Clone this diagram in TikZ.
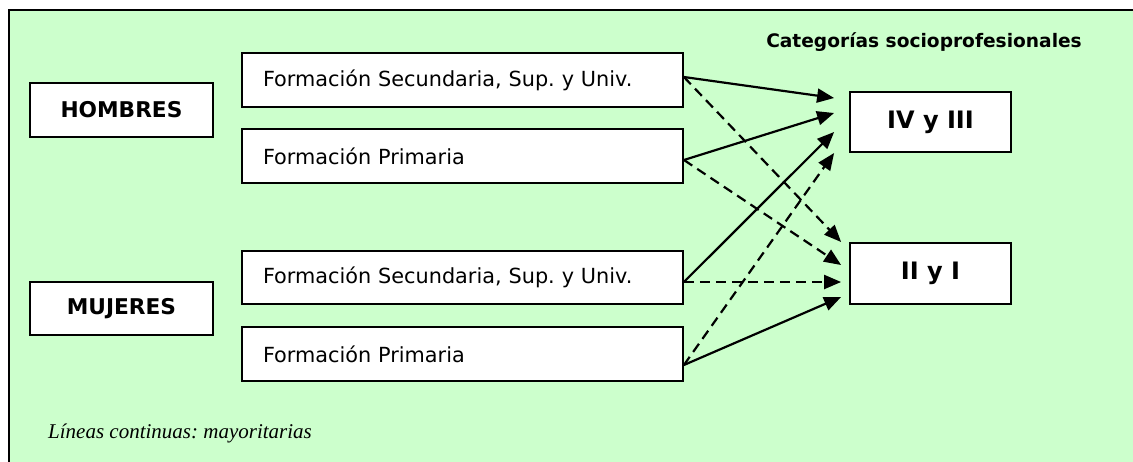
\documentclass[tikz,border=0pt]{standalone}
\usepackage{fontspec}
\setmainfont{DejaVu Sans}
\newfontfamily\notefont{Liberation Serif}
\usetikzlibrary{arrows.meta}
\definecolor{panelgreen}{HTML}{CCFFCC}
\frenchspacing

\begin{document}
\begin{tikzpicture}[x=1pt,y=-1pt,
  box/.style={draw=black,line width=1.8pt,fill=white,inner sep=0pt,minimum height=54pt},
  sexbox/.style={box,minimum width=183pt,font=\fontsize{21.7}{26}\selectfont\bfseries},
  formbox/.style={box,text width=399pt,inner xsep=21pt,align=left,font=\fontsize{20.8}{24}\selectfont},
  catbox/.style={box,minimum width=161pt,minimum height=60pt,font=\fontsize{24}{28}\selectfont\bfseries},
  link/.style={line width=2.2pt,-{Triangle[length=17pt,width=14pt]}},
  dashlink/.style={link,dash pattern=on 10pt off 6pt}]

  % page and green panel (open at the right and bottom)
  \useasboundingbox (0,0) rectangle (1133,461);
  \fill[white] (0,0) rectangle (1133,461);
  \fill[panelgreen] (9,10) rectangle (1140,470);
  \draw[line width=1.5pt] (9,470) -- (9,10) -- (1140,10);

  % title and note
  \node[anchor=base east,inner sep=0pt,font=\fontsize{18.6}{22}\selectfont\bfseries] (title) at (1082,47) {Categorías socioprofesionales};
  \node[anchor=base west,inner sep=0pt,font=\notefont\itshape\fontsize{21}{25}\selectfont] (note) at (48,438) {Líneas continuas: mayoritarias};

  % groups
  \node[sexbox] (hom) at (121.5,110) {HOMBRES};
  \node[sexbox,minimum height=53pt] (muj) at (121.5,308.5) {MUJERES};

  % education levels
  \node[formbox] (f1) at (462.5,80) {Formación Secundaria, Sup. y Univ.};
  \node[formbox] (f2) at (462.5,156) {Formación Primaria};
  \node[formbox,minimum height=53pt] (f3) at (462.5,277.5) {Formación Secundaria, Sup. y Univ.};
  \node[formbox] (f4) at (462.5,354) {Formación Primaria};

  % categories
  \node[catbox] (c1) at (930.5,122) {IV y III};
  \node[catbox,minimum height=61pt] (c2) at (930.5,273.5) {II y I};

  % arrow start points on the education boxes
  \coordinate (s1) at ([yshift=3pt]f1.east);
  \coordinate (s2) at ([yshift=-4pt]f2.east);
  \coordinate (s3) at ([yshift=-4.5pt]f3.east);
  \coordinate (s4) at ([yshift=-11pt]f4.east);

  % arrow end points in front of the category boxes
  \coordinate (t1a) at ([xshift=-15pt,yshift=24pt]c1.west);
  \coordinate (t1b) at ([xshift=-15pt,yshift=9pt]c1.west);
  \coordinate (t1c) at ([xshift=-15pt,yshift=-10pt]c1.west);
  \coordinate (t1d) at ([xshift=-15pt,yshift=-31pt]c1.west);
  \coordinate (t2a) at ([xshift=-8pt,yshift=31.5pt]c2.west);
  \coordinate (t2b) at ([xshift=-8pt,yshift=8.5pt]c2.west);
  \coordinate (t2c) at ([xshift=-8pt,yshift=-8.5pt]c2.west);
  \coordinate (t2d) at ([xshift=-8pt,yshift=-23.5pt]c2.west);

  % solid: majority links, dashed: minority links
  \draw[link] (s1) -- (t1a);
  \draw[dashlink] (s1) -- (t2a);
  \draw[link] (s2) -- (t1b);
  \draw[dashlink] (s2) -- (t2b);
  \draw[link] (s3) -- (t1c);
  \draw[dashlink] (s3) -- (t2c);
  \draw[dashlink] (s4) -- (t1d);
  \draw[link] (s4) -- (t2d);
\end{tikzpicture}
\end{document}
